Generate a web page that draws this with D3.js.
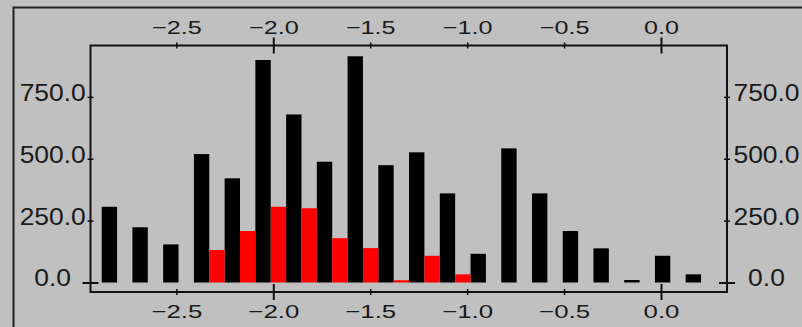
<!DOCTYPE html>
<html>
<head>
<meta charset="utf-8">
<script src="https://cdn.jsdelivr.net/npm/d3@7"></script>
<style>
  html, body { margin: 0; padding: 0; background: #c0c0c0; }
  svg { display: block; }
</style>
</head>
<body>
<svg id="chart" width="802" height="327"></svg>
<script>
// Histogram bins: 20 equal-width bins starting at binStart
const binStart = -2.8853;
const binWidth = 0.15856;

// Counts per bin for the two series (black drawn in the left half, red in the right half)
const blackCounts = [306, 223, 154, 519, 421, 899, 679, 488, 914, 474,
                     526, 360, 116, 542, 360, 208, 138, 10, 108, 33];
const redCounts   = [0, 0, 0, 131, 208, 306, 300, 179, 139, 9,
                     108, 33, 0, 0, 0, 0, 0, 0, 0, 0];

// Axis extents and ticks
const xDomain = [-2.943, 0.3405];
const yDomain = [-38.4, 957.6];
const xTicks = [-2.5, -2.0, -1.5, -1.0, -0.5, 0.0];
const xMajorTicks = [-2.0, 0.0];
const yTicks = [0, 250, 500, 750];
const yMajorTicks = [0];

const svg = d3.select("#chart");
const W = 802, H = 327;
const plot = { left: 90.5, right: 727, top: 45.5, bottom: 292 };

const x = d3.scaleLinear().domain(xDomain).range([plot.left, plot.right]);
const y = d3.scaleLinear().domain(yDomain).range([plot.bottom, plot.top]);
const fmt = d3.format(".1f");
const ink = "#111";

// Outer panel border (open to the right and bottom)
svg.append("path")
  .attr("d", `M${W},7.5 H13.5 V${H}`)
  .attr("fill", "none").attr("stroke", "#222").attr("stroke-width", 2);

// Bars
const bins = blackCounts.map((b, i) => ({
  lo: binStart + i * binWidth,
  mid: binStart + (i + 0.5) * binWidth,
  hi: binStart + (i + 1) * binWidth,
  black: b,
  red: redCounts[i]
}));

svg.append("g").selectAll("rect.black").data(bins).join("rect")
  .attr("class", "black")
  .attr("x", d => x(d.lo))
  .attr("width", d => x(d.mid) - x(d.lo))
  .attr("y", d => y(d.black))
  .attr("height", d => y(0) - y(d.black))
  .attr("fill", "#000");

svg.append("g").selectAll("rect.red").data(bins.filter(d => d.red > 0)).join("rect")
  .attr("class", "red")
  .attr("x", d => x(d.mid))
  .attr("width", d => x(d.hi) - x(d.mid))
  .attr("y", d => y(d.red))
  .attr("height", d => y(0) - y(d.red))
  .attr("fill", "#ff0000");

// Plot frame
svg.append("rect")
  .attr("x", plot.left).attr("y", plot.top)
  .attr("width", plot.right - plot.left).attr("height", plot.bottom - plot.top)
  .attr("fill", "none").attr("stroke", ink).attr("stroke-width", 2);

// Axes: ticks cross the frame line, longer for major ticks
function styleAxis(g, horizontal, majors, textTransform, fontSize) {
  g.select(".domain").remove();
  g.selectAll(".tick line").each(function(d) {
    const major = majors.includes(d);
    const len = major ? 8 : 3;
    const line = d3.select(this)
      .attr("stroke", ink)
      .attr("stroke-width", major ? 2 : 1.5);
    if (horizontal) line.attr("x1", 0).attr("x2", 0).attr("y1", -len).attr("y2", len);
    else line.attr("y1", 0).attr("y2", 0).attr("x1", -len).attr("x2", len);
  });
  g.selectAll(".tick text")
    .attr("x", null).attr("y", null).attr("dy", null)
    .attr("text-anchor", "middle")
    .attr("transform", textTransform)
    .attr("fill", "#1a1a1a")
    .style("font-family", "'Liberation Sans', Arial, sans-serif")
    .style("font-size", fontSize + "px");
}

const gTop = svg.append("g").attr("transform", `translate(0,${plot.top})`)
  .call(d3.axisTop(x).tickValues(xTicks).tickFormat(fmt));
styleAxis(gTop, true, xMajorTicks, "translate(0,-11.5) scale(1.36,1)", 18.5);

const gBottom = svg.append("g").attr("transform", `translate(0,${plot.bottom})`)
  .call(d3.axisBottom(x).tickValues(xTicks).tickFormat(fmt));
styleAxis(gBottom, true, xMajorTicks, "translate(0,26) scale(1.36,1)", 19);

const gLeft = svg.append("g").attr("transform", `translate(${plot.left},0)`)
  .call(d3.axisLeft(y).tickValues(yTicks).tickFormat(fmt));
styleAxis(gLeft, false, yMajorTicks, "translate(-37.8,3.5) scale(1.15,1)", 23);

const gRight = svg.append("g").attr("transform", `translate(${plot.right},0)`)
  .call(d3.axisRight(y).tickValues(yTicks).tickFormat(fmt));
styleAxis(gRight, false, yMajorTicks, "translate(39.5,3.5) scale(1.15,1)", 23);
</script>
</body>
</html>
